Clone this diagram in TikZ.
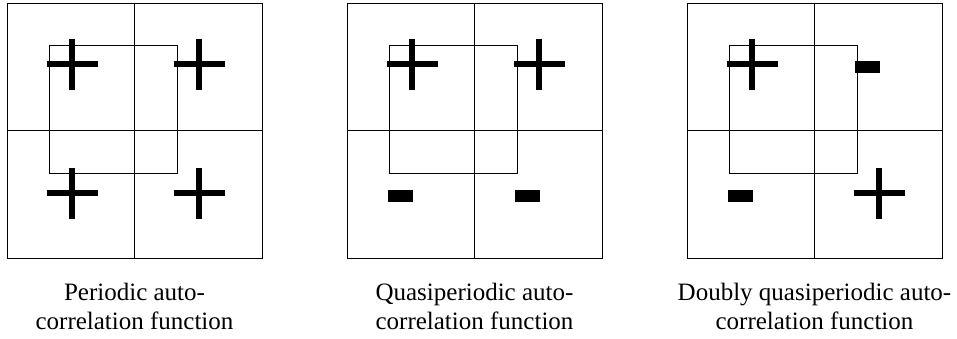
\documentclass[tikz,border=0pt]{standalone}
\usepackage{fontspec}
\setmainfont{Liberation Serif}
\usepackage{tikz}
\usetikzlibrary{arrows.meta}

% Vorzeichen
\newcommand{\plusmark}[2]{\draw[line width=6pt] (#1-25.5,#2)--(#1+25.5,#2) (#1,#2-25.5)--(#1,#2+25.5);}
\newcommand{\minusmark}[2]{\fill (#1-12.5,#2-6) rectangle (#1+12.5,#2+6);}

\tikzset{
  gitter/.style={line width=1pt},
  versetzt/.style={line width=0.9pt},
  beschr/.style={align=center, anchor=north, inner sep=0pt,
    font=\fontsize{25}{29}\selectfont},
}

\begin{document}
\begin{tikzpicture}[x=1pt,y=-1pt]
        \useasboundingbox (0,0) rectangle (957,338);

        % periodisch
        \begin{scope}
          \draw[gitter] (7,3) rectangle (262,258);
          \draw[gitter] (134.5,3)--(134.5,258) (7,130.5)--(262,130.5);
          \draw[versetzt] (49,45) rectangle (177,173);
          \plusmark{72}{64}
          \plusmark{199}{64}
          \plusmark{72}{193}
          \plusmark{199}{193}
        \end{scope}
        \node[beschr] (capA) at (134.5,282.5) {Periodic auto-\\correlation function};

        % quasiperiodisch
        \begin{scope}[xshift=340pt]
          \draw[gitter] (7,3) rectangle (262,258);
          \draw[gitter] (134.5,3)--(134.5,258) (7,130.5)--(262,130.5);
          \draw[versetzt] (49,45) rectangle (177,173);
          \plusmark{72}{64}
          \plusmark{199}{64}
          \minusmark{60.5}{196}
          \minusmark{187}{196}
        \end{scope}
        \node[beschr] (capB) at (474.5,282.5) {Quasiperiodic auto-\\correlation function};

        % doppelt quasiperiodisch
        \begin{scope}[xshift=680pt]
          \draw[gitter] (7,3) rectangle (262,258);
          \draw[gitter] (134.5,3)--(134.5,258) (7,130.5)--(262,130.5);
          \draw[versetzt] (49,45) rectangle (177,173);
          \plusmark{72}{64}
          \minusmark{187}{67}
          \minusmark{60.5}{196}
          \plusmark{199}{193}
        \end{scope}
        \node[beschr] (capC) at (814.5,282.5) {Doubly quasiperiodic auto-\\correlation function};
      \end{tikzpicture}
\end{document}
